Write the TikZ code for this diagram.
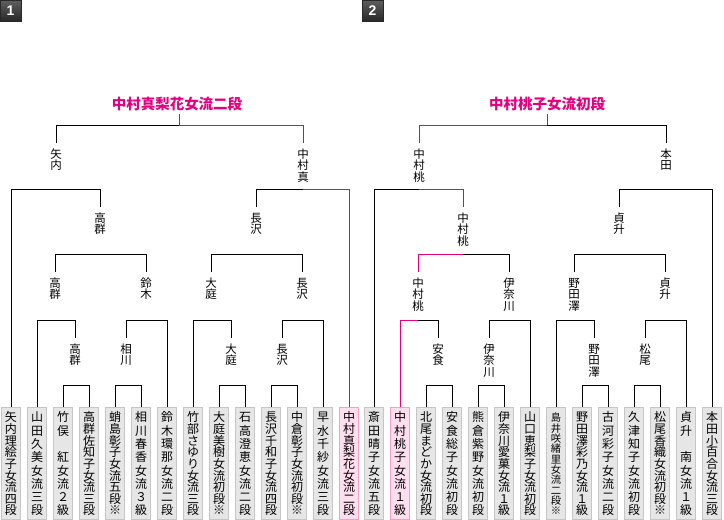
\documentclass[tikz,border=0pt]{standalone}
\usepackage{fontspec}
\setmainfont{Liberation Sans}
\newfontfamily\jp{Noto Sans CJK JP}
\definecolor{win}{RGB}{228,0,127}
\definecolor{boxfill}{RGB}{230,230,230}
\definecolor{boxline}{RGB}{198,198,198}
\definecolor{pinkfill}{RGB}{255,222,238}
\definecolor{pinkline}{RGB}{245,160,200}
\definecolor{badgetop}{RGB}{95,95,95}
\definecolor{badgebot}{RGB}{40,40,40}
\def\chrsize{12}
\tikzset{
 bk/.style={draw=black, line width=1pt},
 pk/.style={draw=win, line width=1pt},
 pbox/.style={draw=boxline, fill=boxfill, line width=1pt, anchor=north, minimum width=19pt, minimum height=112pt, inner sep=0pt},
 pboxwin/.style={pbox, draw=pinkline, fill=pinkfill},
 chr/.style={font=\jp\fontsize{\chrsize}{\chrsize}\selectfont, inner sep=0pt, text height=9.6pt, text depth=0.8pt},
 lch/.style={font=\jp\fontsize{11.5}{11.5}\selectfont, inner sep=0pt, text height=9.5pt, text depth=0.8pt},
 champ/.style={font=\jp\bfseries\fontsize{14.5}{14.5}\selectfont, text=win, inner xsep=0pt, inner ysep=3.5pt, text height=12pt, text depth=1pt},
 badge/.style={minimum size=21pt, inner sep=0pt, top color=badgetop, bottom color=badgebot, draw=badgebot, line width=0.5pt, text=white, font=\bfseries\fontsize{14}{14}\selectfont}
}
% player box: name, x, style, number of chars, chars
\newcommand\pl[5]{%
  \node[#3] (#1) at (#2,406.5) {};
  \ifnum#4>9 \def\chrsize{10.3}\else\def\chrsize{12}\fi
  \foreach \ch [count=\k] in {#5} {\node[chr] at (#2,{417.5+(\k-1)*93/(#4-1)}) {\ch};}
}
% winner label: name, x, parent level, chars
\newcommand\lab[4]{%
  \coordinate (#1) at (#2,#3+18);
  \foreach \ch [count=\k] in {#4} {\node[lch] at (#2,{#3+29+(\k-1)*11.5}) {\ch};}
}
% match: name, x split, y, child1, child2, style1, style2
\newcommand\match[7]{%
  \coordinate (#1) at (#2,#3);
  \draw[#6] (#4) |- (#1);
  \draw[#7] (#1) -| (#5);
}
\begin{document}
\begin{tikzpicture}[x=1pt,y=-1pt]
\useasboundingbox (0,0) rectangle (724,520);
\node[badge] (g1) at (10.5,10.5) {1};
\node[badge] (g2) at (372.5,10.5) {2};

% ---------- bracket 1 ----------
\pl{a1}{11}{pbox}{9}{矢,内,理,絵,子,女,流,四,段}
\pl{a2}{37}{pbox}{8}{山,田,久,美,女,流,三,段}
\pl{a3}{63}{pbox}{8}{竹,俣,{},紅,女,流,２,級}
\pl{a4}{89}{pbox}{9}{高,群,佐,知,子,女,流,三,段}
\pl{a5}{115}{pbox}{9}{蛸,島,彰,子,女,流,五,段,※}
\pl{a6}{141}{pbox}{8}{相,川,春,香,女,流,３,級}
\pl{a7}{167}{pbox}{8}{鈴,木,環,那,女,流,二,段}
\pl{a8}{193}{pbox}{9}{竹,部,さ,ゆ,り,女,流,三,段}
\pl{a9}{219}{pbox}{9}{大,庭,美,樹,女,流,初,段,※}
\pl{a10}{245}{pbox}{8}{石,高,澄,恵,女,流,二,段}
\pl{a11}{271}{pbox}{9}{長,沢,千,和,子,女,流,四,段}
\pl{a12}{297}{pbox}{9}{中,倉,彰,子,女,流,初,段,※}
\pl{a13}{323}{pbox}{8}{早,水,千,紗,女,流,三,段}
\pl{a14}{349}{pboxwin}{9}{中,村,真,梨,花,女,流,二,段}

\lab{la}{56}{125}{矢,内}
\lab{lb}{303}{125}{中,村,真}
\lab{lc}{100}{189}{高,群}
\lab{ld}{256}{189}{長,沢}
\lab{le}{55}{254}{高,群}
\lab{lf}{146}{254}{鈴,木}
\lab{lg}{211}{254}{大,庭}
\lab{lh}{302}{254}{長,沢}
\lab{li}{75}{320}{高,群}
\lab{lj}{126}{320}{相,川}
\lab{lk}{231}{320}{大,庭}
\lab{ll}{282}{320}{長,沢}

\match{mla}{179}{125}{la}{lb}{bk}{pk}
\match{mlb}{56}{189}{a1.north}{lc}{bk}{bk}
\match{mlc}{303}{189}{ld}{a14.north}{bk}{pk}
\match{mld}{100}{254}{le}{lf}{bk}{bk}
\match{mle}{256}{254}{lg}{lh}{bk}{bk}
\match{mlf}{55}{320}{a2.north}{li}{bk}{bk}
\match{mlg}{146}{320}{lj}{a7.north}{bk}{bk}
\match{mlh}{211}{320}{a8.north}{lk}{bk}{bk}
\match{mli}{302}{320}{ll}{a13.north}{bk}{bk}
\match{mlj}{75}{385}{a3.north}{a4.north}{bk}{bk}
\match{mlk}{126}{385}{a5.north}{a6.north}{bk}{bk}
\match{mll}{231}{385}{a9.north}{a10.north}{bk}{bk}
\match{mlm}{282}{385}{a11.north}{a12.north}{bk}{bk}

\node[champ] (cl) at (177,104) {中村真梨花女流二段};
\draw[pk] (mla |- cl.south) -- (mla);

% ---------- bracket 2 ----------
\pl{c1}{374}{pbox}{8}{斎,田,晴,子,女,流,五,段}
\pl{c2}{400}{pboxwin}{8}{中,村,桃,子,女,流,１,級}
\pl{c3}{426}{pbox}{9}{北,尾,ま,ど,か,女,流,初,段}
\pl{c4}{452}{pbox}{8}{安,食,総,子,女,流,初,段}
\pl{c5}{478}{pbox}{8}{熊,倉,紫,野,女,流,初,段}
\pl{c6}{504}{pbox}{9}{伊,奈,川,愛,菓,女,流,１,級}
\pl{c7}{530}{pbox}{9}{山,口,恵,梨,子,女,流,初,段}
\pl{c8}{556}{pbox}{10}{島,井,咲,緒,里,女,流,二,段,※}
\pl{c9}{582}{pbox}{9}{野,田,澤,彩,乃,女,流,１,級}
\pl{c10}{608}{pbox}{8}{古,河,彩,子,女,流,二,段}
\pl{c11}{634}{pbox}{8}{久,津,知,子,女,流,初,段}
\pl{c12}{660}{pbox}{9}{松,尾,香,織,女,流,初,段,※}
\pl{c13}{686}{pbox}{8}{貞,升,{},南,女,流,１,級}
\pl{c14}{712}{pbox}{9}{本,田,小,百,合,女,流,三,段}

\lab{ra}{419}{125}{中,村,桃}
\lab{rb}{666}{125}{本,田}
\lab{rc}{463}{189}{中,村,桃}
\lab{rd}{619}{189}{貞,升}
\lab{re}{418}{254}{中,村,桃}
\lab{rf}{509}{254}{伊,奈,川}
\lab{rg}{574}{254}{野,田,澤}
\lab{rh}{665}{254}{貞,升}
\lab{ri}{438}{320}{安,食}
\lab{rj}{489}{320}{伊,奈,川}
\lab{rk}{594}{320}{野,田,澤}
\lab{rl}{645}{320}{松,尾}

\match{mra}{547}{125}{ra}{rb}{pk}{bk}
\match{mrb}{419}{189}{c1.north}{rc}{bk}{pk}
\match{mrc}{666}{189}{rd}{c14.north}{bk}{bk}
\match{mrd}{463}{254}{re}{rf}{pk}{bk}
\match{mre}{619}{254}{rg}{rh}{bk}{bk}
\match{mrf}{418}{320}{c2.north}{ri}{pk}{bk}
\match{mrg}{509}{320}{rj}{c7.north}{bk}{bk}
\match{mrh}{574}{320}{c8.north}{rk}{bk}{bk}
\match{mri}{665}{320}{rl}{c13.north}{bk}{bk}
\match{mrj}{438}{385}{c3.north}{c4.north}{bk}{bk}
\match{mrk}{489}{385}{c5.north}{c6.north}{bk}{bk}
\match{mrl}{594}{385}{c9.north}{c10.north}{bk}{bk}
\match{mrm}{645}{385}{c11.north}{c12.north}{bk}{bk}

\node[champ] (cr) at (547,104) {中村桃子女流初段};
\draw[pk] (mra |- cr.south) -- (mra);
\end{tikzpicture}
\end{document}
